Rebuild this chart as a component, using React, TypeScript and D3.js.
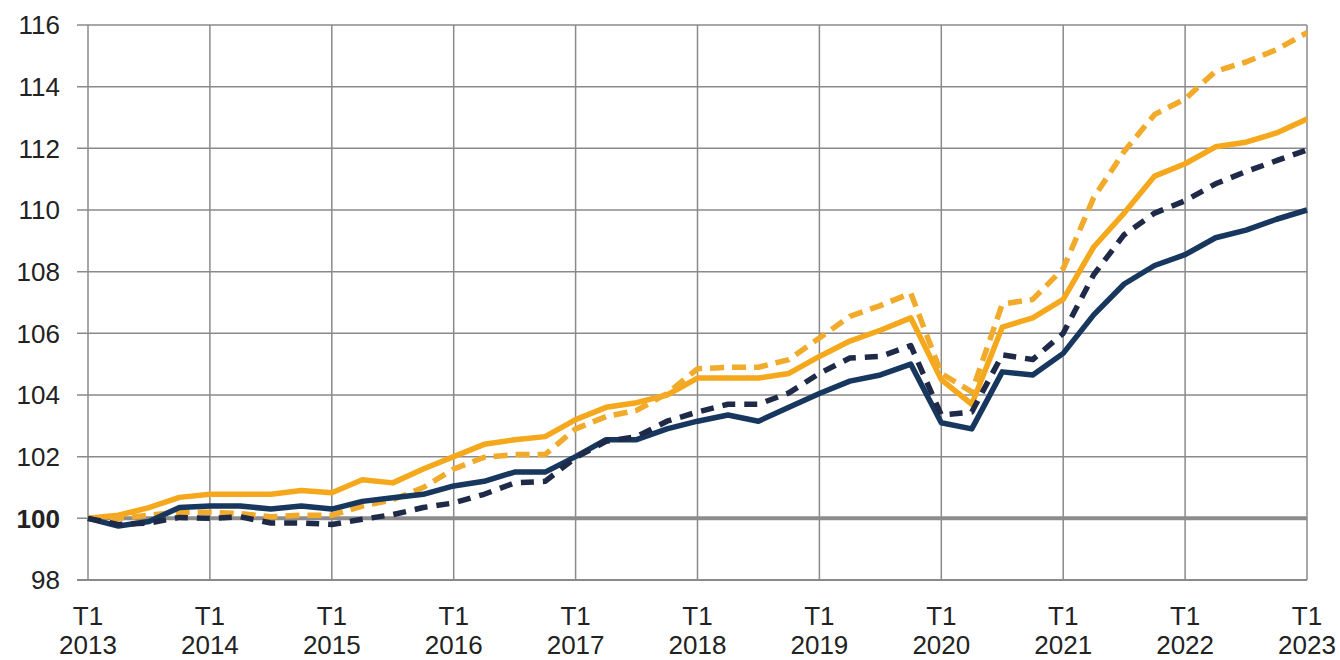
import React from "react";
import * as d3 from "d3";

const years = [2013, 2014, 2015, 2016, 2017, 2018, 2019, 2020, 2021, 2022, 2023];
const yTicks = [98, 100, 102, 104, 106, 108, 110, 112, 114, 116];

const orangeSolid = [100, 100.1, 100.35, 100.68, 100.78, 100.78, 100.78, 100.9, 100.83, 101.25, 101.15, 101.6, 102.0, 102.4, 102.55, 102.65, 103.2, 103.6, 103.75, 104.0, 104.55, 104.55, 104.55, 104.7, 105.25, 105.75, 106.1, 106.5, 104.5, 103.7, 106.2, 106.5, 107.1, 108.8, 109.9, 111.1, 111.5, 112.05, 112.2, 112.5, 112.95];
const orangeDashed = [100, 100, 100.1, 100.2, 100.2, 100.15, 100.05, 100.1, 100.1, 100.4, 100.6, 101.0, 101.6, 101.98, 102.07, 102.07, 102.9, 103.3, 103.5, 104.05, 104.85, 104.9, 104.9, 105.15, 105.85, 106.55, 106.9, 107.3, 104.7, 104.1, 106.95, 107.1, 108.1, 110.4, 111.9, 113.1, 113.6, 114.5, 114.8, 115.2, 115.75];
const navySolid = [100, 99.75, 99.9, 100.35, 100.4, 100.4, 100.3, 100.4, 100.3, 100.55, 100.67, 100.78, 101.05, 101.2, 101.5, 101.5, 102.0, 102.55, 102.55, 102.9, 103.15, 103.35, 103.15, 103.6, 104.05, 104.45, 104.65, 105.0, 103.1, 102.9, 104.75, 104.65, 105.35, 106.6, 107.6, 108.2, 108.55, 109.1, 109.35, 109.7, 110.0];
const navyDashed = [100, 99.8, 99.85, 100.03, 100.0, 100.05, 99.85, 99.85, 99.8, 99.97, 100.12, 100.35, 100.5, 100.78, 101.15, 101.2, 101.97, 102.5, 102.65, 103.15, 103.45, 103.7, 103.7, 104.07, 104.7, 105.2, 105.25, 105.6, 103.35, 103.45, 105.3, 105.15, 106.0, 107.9, 109.2, 109.9, 110.3, 110.85, 111.25, 111.6, 111.95];

const W = 1340;
const H = 660;
const left = 88;
const right = 1307;
const top = 25;
const bottom = 580;

const font = "'Liberation Sans', Arial, sans-serif";

export default function App() {
  const x = d3.scaleLinear().domain([0, 40]).range([left, right]);
  const y = d3.scaleLinear().domain([98, 116]).range([bottom, top]);
  const line = d3
    .line<number>()
    .x((_, i) => x(i))
    .y((d) => y(d))
    .curve(d3.curveLinear);

  const series = [
    { data: orangeSolid, color: "#F5A81C", dash: undefined },
    { data: orangeDashed, color: "#F2AA2A", dash: "14 8" },
    { data: navySolid, color: "#17375E", dash: undefined },
    { data: navyDashed, color: "#1E2A48", dash: "13 9" },
  ];

  return (
    <svg
      width={W}
      height={H}
      style={{ position: "absolute", left: 0, top: 0, background: "#fff" }}
    >
      {yTicks.map((t) => (
        <line
          key={"h" + t}
          x1={left - 11}
          x2={right}
          y1={y(t)}
          y2={y(t)}
          stroke="#8a8a8a"
          strokeWidth={t === 98 ? 2 : 1.5}
        />
      ))}
      {years.map((yr, i) => (
        <line
          key={"v" + yr}
          x1={x(i * 4)}
          x2={x(i * 4)}
          y1={top}
          y2={bottom}
          stroke="#8a8a8a"
          strokeWidth={1.5}
        />
      ))}
      <line
        x1={left}
        x2={right}
        y1={y(100)}
        y2={y(100)}
        stroke="#8c8c8c"
        strokeWidth={4}
      />
      {series.map((s, k) => (
        <path
          key={k}
          d={line(s.data) || ""}
          fill="none"
          stroke={s.color}
          strokeWidth={5.5}
          strokeDasharray={s.dash}
          strokeLinejoin="round"
        />
      ))}
      {yTicks.map((t) => (
        <text
          key={"yl" + t}
          x={60}
          y={y(t)}
          dy="0.36em"
          textAnchor="end"
          fontFamily={font}
          fontSize={26}
          fontWeight={t === 100 ? 700 : 400}
          fill="#222"
        >
          {t}
        </text>
      ))}
      {years.map((yr, i) => (
        <text
          key={"xl" + yr}
          y={625}
          textAnchor="middle"
          fontFamily={font}
          fontSize={26}
          fill="#222"
        >
          <tspan x={x(i * 4)}>T1</tspan>
          <tspan x={x(i * 4)} dy={29}>
            {yr}
          </tspan>
        </text>
      ))}
    </svg>
  );
}
